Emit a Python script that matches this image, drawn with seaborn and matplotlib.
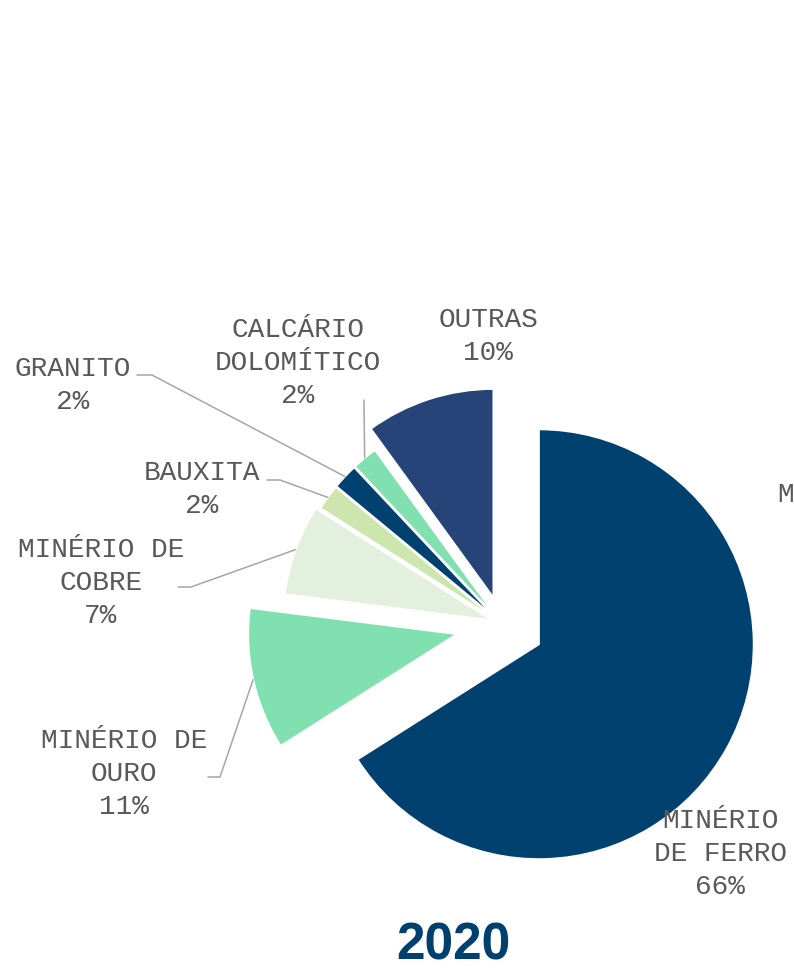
import numpy as np
import matplotlib
matplotlib.use('Agg')
import matplotlib.pyplot as plt
import seaborn as sns

# dados
categorias = ['MINÉRIO\nDE FERRO', 'MINÉRIO DE\nOURO', 'MINÉRIO DE\nCOBRE',
              'BAUXITA', 'GRANITO', 'CALCÁRIO\nDOLOMÍTICO', 'OUTRAS']
percentuais = [66, 11, 7, 2, 2, 2, 10]
cores = ['#004170', '#80E0B0', '#E2F0DD', '#CDE6AD', '#004170', '#80E0B0', '#264478']
ano = '2020'

# deslocamento de cada fatia (em pixels)
destaque = [42, 46, 10.5, 6.5, 6.5, 6.5, 27.5]

# posicao dos rotulos: (x centro, linha de base da primeira linha)
pos_rotulos = [(720, 828), (124, 748), (101, 557), (202, 480),
               (73, 376), (298, 337), (488, 327)]
# cotovelos das linhas-guia (None = sem linha)
guias = [None, [(208, 777), (220, 777)], [(178, 587), (191, 587)],
         [(267, 480), (280, 480)], [(137, 375), (152, 375)],
         [(364, 400)], None]

sns.set_theme(style='white')
plt.rcParams['font.family'] = ['Liberation Mono', 'DejaVu Sans']

W, H = 794, 973
fig = plt.figure(figsize=(W / 100, H / 100), dpi=100)
ax = fig.add_axes([0, 0, 1, 1])

wedges, _ = ax.pie(percentuais, colors=cores, explode=destaque,
                   startangle=-90, counterclock=True,
                   center=(502, 624), radius=209,
                   wedgeprops=dict(edgecolor='white', linewidth=1.5))
wedges[0].set_radius(215)

ax.set_xlim(0, W)
ax.set_ylim(H, 0)
ax.axis('off')

cinza = '#595959'
for i, (nome, v) in enumerate(zip(categorias, percentuais)):
    x0, y0 = pos_rotulos[i]
    linhas = nome.split('\n') + [f'{v}%']
    for k, l in enumerate(linhas):
        ax.text(x0, y0 + k * 33, l, ha='center', va='baseline',
                fontsize=20, color=cinza)
    if guias[i] is not None:
        w = wedges[i]
        tm = np.deg2rad((w.theta1 + w.theta2) / 2)
        px = w.center[0] + w.r * np.cos(tm)
        py = w.center[1] + w.r * np.sin(tm)
        xs = [p[0] for p in guias[i]] + [px]
        ys = [p[1] for p in guias[i]] + [py]
        ax.plot(xs, ys, color='#A6A6A6', lw=1.1)

# pedaco de rotulo cortado na borda direita
ax.text(777, 502, 'M', ha='left', va='baseline', fontsize=20, color=cinza)

ax.text(453, 971, ano, ha='center', va='bottom', fontsize=37,
        fontweight='bold', color='#00406E', family='Liberation Sans')

fig.savefig('out.png', dpi=100)
